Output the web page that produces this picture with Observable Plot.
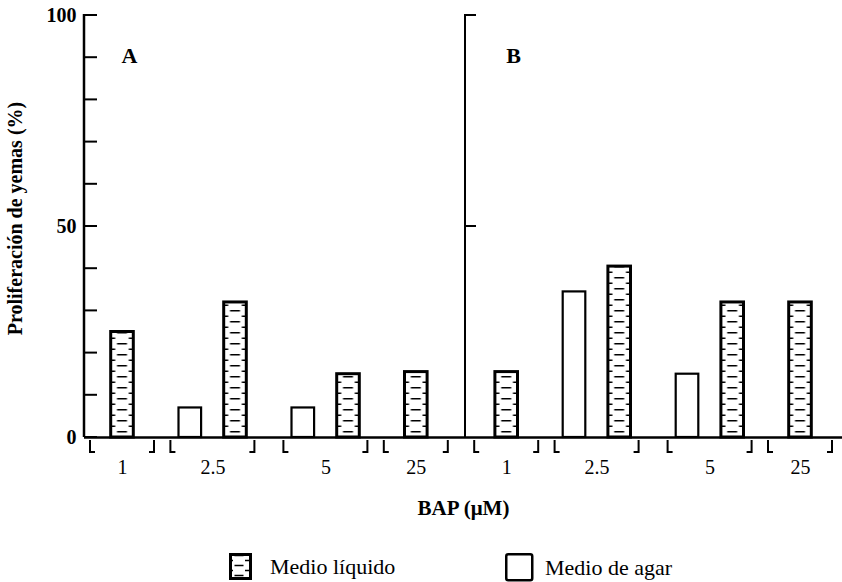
<!DOCTYPE html>
<html>
<head>
<meta charset="utf-8">
<script src="https://cdn.jsdelivr.net/npm/d3@7"></script>
<script src="https://cdn.jsdelivr.net/npm/@observablehq/plot@0.6"></script>
<style>
  body { margin: 0; background: #fff; font-family: "Liberation Serif", "Times New Roman", serif; }
  #chart svg { display: block; }
  #legend { position: relative; height: 37px; width: 842px; }
  .item { position: absolute; top: 8px; display: flex; align-items: center; font-size: 22px; color: #000; }
</style>
</head>
<body>
<svg width="0" height="0" style="position:absolute">
  <defs>
    <pattern id="brick" patternUnits="userSpaceOnUse" width="22" height="11"><rect width="100" height="11" fill="white"/><path id="brickPath" stroke="black" stroke-width="1.6" fill="none"/></pattern>
    <pattern id="brickL" patternUnits="userSpaceOnUse" width="20" height="10"><rect width="20" height="10" fill="white"/><path d="M5.5,2.5H14.5M0,7.5H4M16,7.5H20" stroke="black" stroke-width="1.6" fill="none"/></pattern>
  </defs>
</svg>
<div id="chart"></div>
<div id="legend"></div>
<script>
// ---- data ----
const panels = ["A", "B"];
const bapLevels = ["1", "2.5", "5", "25"];
const liquidA = [25, 32, 15, 15.5];
const agarA = [null, 7, 7, null];
const liquidB = [15.5, 40.5, 32, 32];
const agarB = [null, 34.5, 15, null];
const yTicks = [0, 10, 20, 30, 40, 50, 60, 70, 80, 90, 100];
const yTickLabels = [0, 50, 100];
const mediumNames = ["Medio líquido", "Medio de agar"];
const yTitle = "Proliferación de yemas (%)";
const xTitle = "BAP (μM)";

// ---- build table and band domain ----
const series = { A: { liquid: liquidA, agar: agarA }, B: { liquid: liquidB, agar: agarB } };
const key = (p, b, s) => `${p}|${b}|${s}`;
const rows = [], groups = [], domain = [];
panels.forEach((p, pi) => {
  if (pi > 0) domain.push(`gap${pi}a`, `gap${pi}b`, `gap${pi}c`);
  bapLevels.forEach((b, bi) => {
    const ag = series[p].agar[bi], lq = series[p].liquid[bi];
    const both = ag != null && lq != null;
    if (bi > 0) domain.push(key(p, b, "g1"), key(p, b, "g2"));
    if (both) domain.push(key(p, b, "agar"), key(p, b, "solo"), key(p, b, "liquid"));
    else domain.push(key(p, b, "solo"));
    if (ag != null) rows.push({ panel: p, bap: b, medium: "agar", value: ag, slot: both ? key(p, b, "agar") : key(p, b, "solo") });
    if (lq != null) rows.push({ panel: p, bap: b, medium: "liquid", value: lq, slot: both ? key(p, b, "liquid") : key(p, b, "solo") });
    groups.push({ panel: p, bap: b, both, slot: key(p, b, "solo") });
  });
});

// ---- decorations: axis lines, ticks, panel divider, group brackets ----
function decor(index, scales, values, dimensions) {
  const { x, y } = scales;
  const bw = x.bandwidth ? x.bandwidth() : 0;
  const y0 = y(0), yTop = y(100);
  const ax = dimensions.marginLeft;
  const g = d3.create("svg:g").attr("fill", "none").attr("stroke", "black");
  g.append("line").attr("x1", ax).attr("x2", ax).attr("y1", yTop - 1).attr("y2", y0).attr("stroke-width", 2.5);
  for (const t of yTicks) {
    g.append("line").attr("x1", ax).attr("x2", ax + 13).attr("y1", y(t)).attr("y2", y(t)).attr("stroke-width", 2);
  }
  const lastA = groups.filter(d => d.panel === panels[0]).at(-1);
  const firstB = groups.find(d => d.panel === panels[1]);
  const xd = (x(lastA.slot) + x(firstB.slot) + bw) / 2 + 4;
  g.append("line").attr("x1", xd).attr("x2", xd).attr("y1", yTop - 1).attr("y2", y0).attr("stroke-width", 2);
  for (const t of [50, 100]) {
    g.append("line").attr("x1", xd).attr("x2", xd + 11).attr("y1", y(t)).attr("y2", y(t)).attr("stroke-width", 2);
  }
  for (const gr of groups) {
    const c = x(gr.slot) + bw / 2, h = gr.both ? 42 : 32;
    g.append("path")
      .attr("d", `M${c - h},${y0 + 3}V${y0 + 15}h5M${c + h},${y0 + 3}V${y0 + 15}h-5`)
      .attr("stroke-width", 2);
  }
  return g.node();
}

const chart = Plot.plot({
  width: 842,
  height: 545,
  marginTop: 15,
  marginBottom: 108,
  marginLeft: 84,
  marginRight: 0,
  style: { fontFamily: "'Liberation Serif', 'Times New Roman', serif", fontSize: "20px", fontWeight: "bold", background: "white", color: "black" },
  x: { type: "band", domain, range: [110.7, 811.3], paddingInner: 0, paddingOuter: 0, round: false, axis: null },
  y: { domain: [0, 100], ticks: yTickLabels, tickSize: 0, tickPadding: 8, label: null, tickFormat: d => String(d) },
  marks: [
    Plot.barY(rows.filter(d => d.medium === "agar"), { x: "slot", y: "value", fill: "white", stroke: "black", strokeWidth: 2.2 }),
    Plot.barY(rows.filter(d => d.medium === "liquid"), { x: "slot", y: "value", fill: "url(#brick)", stroke: "black", strokeWidth: 3 }),
    Plot.ruleY([0], { stroke: "black", strokeWidth: 2.5 }),
    decor,
    Plot.text(groups, { x: "slot", text: "bap", frameAnchor: "bottom", lineAnchor: "middle", dy: 30, fontWeight: "normal", fontSize: 20 }),
    Plot.text(panels, { x: p => key(p, bapLevels[0], "solo"), text: d => d, frameAnchor: "top", lineAnchor: "middle", dy: 40, dx: 7, fontSize: 22, fontWeight: "bold" }),
    Plot.text([xTitle], { text: d => d, frameAnchor: "bottom", lineAnchor: "middle", dy: 71, fontSize: 21, fontWeight: "bold" }),
    Plot.text([yTitle], { text: d => d, frameAnchor: "left", rotate: -90, dx: -69, dy: -8, textAnchor: "middle", fontSize: 20, fontWeight: "bold" })
  ]
});
document.getElementById("chart").appendChild(chart);

// align the brick pattern with the band slots
const xs = chart.scale("x");
const step = xs.step || (xs.range[1] - xs.range[0]) / xs.domain.length;
const pat = document.getElementById("brick");
pat.setAttribute("x", xs.range[0]);
pat.setAttribute("width", step);
const w = step;
document.getElementById("brickPath").setAttribute("d",
  `M${w * 0.28},2.75H${w * 0.72}M0,8.25H${w * 0.2}M${w * 0.8},8.25H${w}`);

// legend
const legend = document.getElementById("legend");
legend.innerHTML = `
  <div class="item" style="left:229px"><svg width="24" height="28"><rect x="1.5" y="1.5" width="20" height="24" fill="url(#brickL)" stroke="black" stroke-width="3"/></svg><span style="margin-left:17px">${mediumNames[0]}</span></div>
  <div class="item" style="left:505px"><svg width="29" height="29"><rect x="1.25" y="1.25" width="26" height="26" rx="2" fill="white" stroke="black" stroke-width="2.5"/></svg><span style="margin-left:11px">${mediumNames[1]}</span></div>`;
</script>
</body>
</html>
